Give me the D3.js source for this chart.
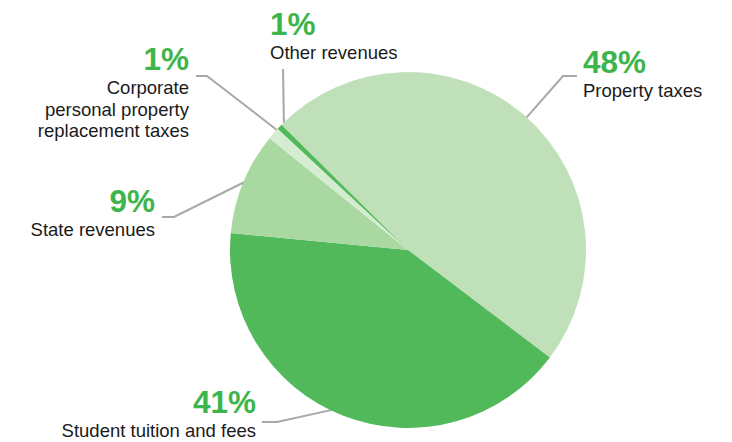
<!DOCTYPE html>
<html>
<head>
<meta charset="utf-8">
<script src="https://cdn.jsdelivr.net/npm/d3@7"></script>
<style>
  html, body { margin: 0; padding: 0; background: #ffffff; }
  svg { display: block; }
  text { font-family: "Liberation Sans", Arial, Helvetica, sans-serif; }
</style>
</head>
<body>
<svg id="chart" width="732" height="442"></svg>
<script>
// ---- data ----
const categories = [
  "Property taxes",
  "Student tuition and fees",
  "State revenues",
  "Corporate personal property replacement taxes",
  "Other revenues"
];
const values = [47.9, 41.2, 9.3, 1.1, 0.5];
const percentLabels = ["48%", "41%", "9%", "1%", "1%"];
const labelLines = [
  ["Property taxes"],
  ["Student tuition and fees"],
  ["State revenues"],
  ["Corporate", "personal property", "replacement taxes"],
  ["Other revenues"]
];
const sliceColors = ["#bfe0b9", "#52b95a", "#a9d8a1", "#d5ecd1", "#52b95a"];

// ---- layout (positions / styling) ----
const W = 732, H = 442;
const cx = 408, cy = 250, R = 178;
const startDeg = -45.3;
const labelLayout = [
  { rimDeg: 41.8,  elbow: [563, 76],  end: [577, 76],  anchor: "start", tx: 583, pctY: 73,  lineY: 97 },
  { rimDeg: 205.4, elbow: [277, 422], end: [262, 422], anchor: "end",   tx: 256, pctY: 413, lineY: 437 },
  { rimDeg: 292.6, elbow: [174, 217], end: [162, 217], anchor: "end",   tx: 155, pctY: 212, lineY: 236 },
  { rimDeg: 312.5, elbow: [207, 76],  end: [196, 76],  anchor: "end",   tx: 189, pctY: 70,  lineY: 94 },
  { rimDeg: 315.5, elbow: [283, 69],  end: [283, 69],  anchor: "start", tx: 270, pctY: 35,  lineY: 59 }
];

const svg = d3.select("#chart");
const rad = d => d * Math.PI / 180;

const pie = d3.pie()
  .sort(null)
  .value(d => d.value)
  .startAngle(rad(startDeg))
  .endAngle(rad(startDeg + 360));

const data = categories.map((c, i) => ({ name: c, value: values[i], color: sliceColors[i], pct: percentLabels[i], lines: labelLines[i], lay: labelLayout[i] }));
const arcs = pie(data);
const arc = d3.arc().innerRadius(0).outerRadius(R);

// leader lines
const lines = svg.append("g").attr("class", "leaders");
arcs.forEach(a => {
  const L = a.data.lay;
  const r = R - 1;
  const px = cx + r * Math.sin(rad(L.rimDeg));
  const py = cy - r * Math.cos(rad(L.rimDeg));
  const path = d3.path();
  path.moveTo(px, py);
  path.lineTo(L.elbow[0], L.elbow[1]);
  path.lineTo(L.end[0], L.end[1]);
  lines.append("path")
    .attr("d", path.toString())
    .attr("fill", "none")
    .attr("stroke", "#a8a8a8")
    .attr("stroke-width", 2);
});

// slices
svg.append("g")
  .attr("transform", `translate(${cx},${cy})`)
  .selectAll("path")
  .data(arcs)
  .join("path")
  .attr("d", arc)
  .attr("fill", d => d.data.color);

// labels
const lab = svg.append("g").attr("class", "labels");
arcs.forEach(a => {
  const L = a.data.lay;
  lab.append("text")
    .attr("x", L.tx)
    .attr("y", L.pctY)
    .attr("text-anchor", L.anchor)
    .attr("font-size", 31.5)
    .attr("font-weight", "bold")
    .attr("fill", "#3db54b")
    .text(a.data.pct);
  a.data.lines.forEach((t, j) => {
    lab.append("text")
      .attr("x", L.tx)
      .attr("y", L.lineY + j * 21.5)
      .attr("text-anchor", L.anchor)
      .attr("font-size", 18.5)
      .attr("fill", "#1a1a1a")
      .text(t);
  });
});
</script>
</body>
</html>
